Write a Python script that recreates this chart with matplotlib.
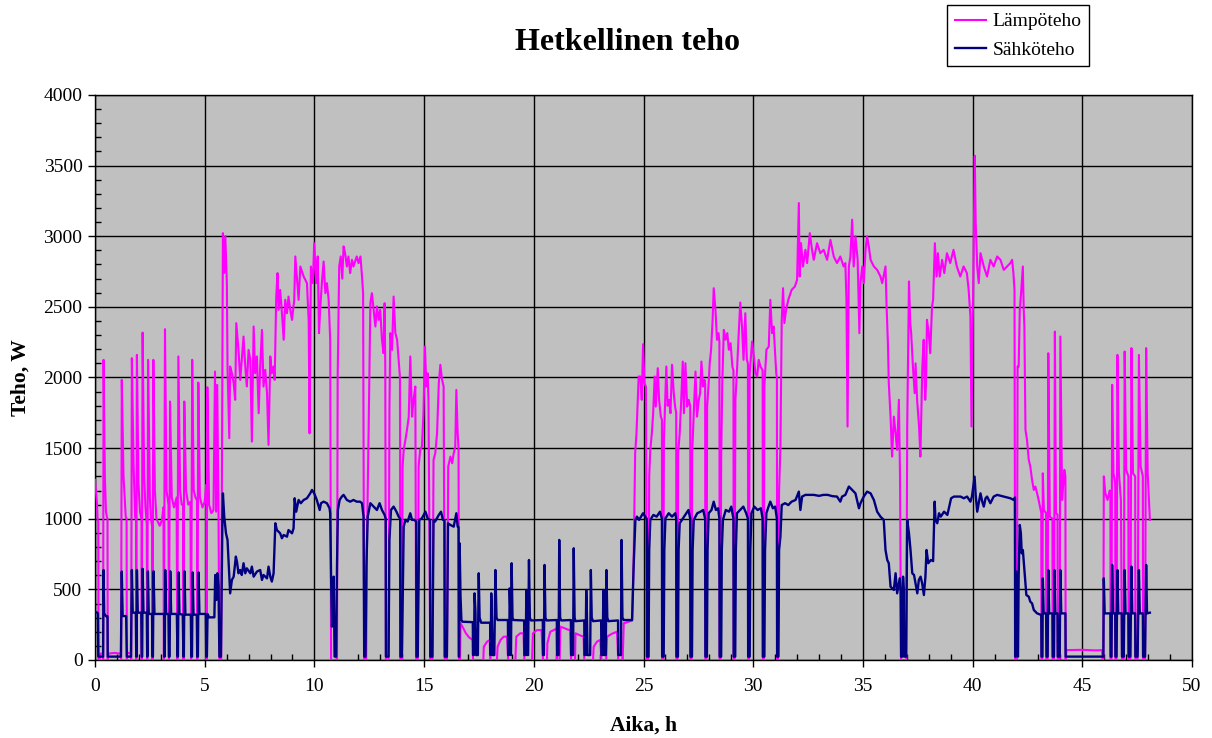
import numpy as np
import matplotlib
matplotlib.use("Agg")
import matplotlib.pyplot as plt
import matplotlib.ticker as mticker

# (time h, power W), split by period
heat_0_6h = [
  (0.00, 1275), (0.09, 1110), (0.12, 990), (0.15, 980), (0.16, 0), (0.22, 10), (0.25, 45), (0.36, 45),
  (0.37, 0), (0.39, 2125), (0.45, 1300), (0.50, 1050), (0.54, 1015), (0.57, 1000), (0.58, 0), (0.60, 45),
  (0.90, 50), (1.18, 45), (1.19, 0), (1.22, 1983), (1.30, 1300), (1.40, 1015), (1.44, 1000), (1.45, 0),
  (1.48, 50), (1.63, 50), (1.65, 0), (1.68, 2137), (1.76, 1370), (1.83, 1015), (1.87, 990), (1.88, 0),
  (1.91, 2160), (1.98, 1250), (2.05, 1050), (2.12, 1000), (2.13, 0), (2.17, 2318), (2.24, 1300),
  (2.30, 1080), (2.36, 960), (2.38, 0), (2.42, 2125), (2.50, 1150), (2.55, 1000), (2.61, 940), (2.62, 0),
  (2.66, 2125), (2.73, 1200), (2.80, 1000), (2.95, 950), (3.05, 990), (3.12, 1080), (3.14, 0),
  (3.19, 2342), (3.26, 1200), (3.35, 1100), (3.37, 0), (3.42, 1830), (3.50, 1150), (3.60, 1080),
  (3.72, 1150), (3.75, 0), (3.80, 2149), (3.88, 1200), (3.95, 1100), (4.02, 1100), (4.03, 0),
  (4.07, 1830), (4.15, 1200), (4.25, 1100), (4.35, 1120), (4.38, 0), (4.43, 2125), (4.50, 1200),
  (4.58, 1150), (4.65, 1130), (4.66, 0), (4.71, 1964), (4.78, 1150), (4.90, 1080), (5.00, 1120),
  (5.07, 1240), (5.09, 0), (5.12, 1931), (5.20, 1100), (5.30, 1040), (5.40, 1060), (5.47, 2042),
  (5.52, 1050), (5.57, 1948), (5.63, 1020), (5.67, 0), (5.75, 0), (5.80, 1800),
]
heat_6_11h = [
  (5.83, 3022), (5.89, 2740), (5.94, 3000), (6.01, 2668), (6.04, 2078), (6.12, 1570), (6.16, 2078),
  (6.24, 2030), (6.32, 1960), (6.39, 1842), (6.44, 2385), (6.54, 2195), (6.62, 1983), (6.77, 2290),
  (6.85, 2078), (6.92, 1936), (7.00, 2195), (7.08, 2125), (7.15, 1546), (7.23, 2361), (7.30, 2030),
  (7.38, 2149), (7.46, 1747), (7.53, 2078), (7.61, 2337), (7.68, 1936), (7.76, 2054), (7.84, 1889),
  (7.91, 1523), (7.99, 2149), (8.06, 2030), (8.14, 2078), (8.19, 1983), (8.26, 2573), (8.32, 2739),
  (8.37, 2479), (8.44, 2620), (8.52, 2455), (8.60, 2267), (8.67, 2550), (8.75, 2455), (8.82, 2573),
  (8.90, 2479), (8.98, 2408), (9.08, 2550), (9.13, 2857), (9.20, 2715), (9.28, 2550), (9.36, 2786),
  (9.51, 2715), (9.66, 2668), (9.74, 2400), (9.78, 1605), (9.84, 2786), (9.93, 2668), (9.99, 2951),
  (10.08, 2668), (10.15, 2857), (10.21, 2314), (10.27, 2500), (10.34, 2668), (10.42, 2821),
  (10.50, 2597), (10.57, 2668), (10.65, 2550), (10.72, 2267),
]
heat_11_17h = [
  (10.76, 0), (11.03, 0), (11.06, 2000), (11.13, 2786), (11.20, 2857), (11.27, 2700), (11.33, 2928),
  (11.40, 2880), (11.48, 2786), (11.55, 2857), (11.63, 2739), (11.71, 2833), (11.78, 2786),
  (11.93, 2857), (12.01, 2810), (12.10, 2857), (12.17, 2715), (12.22, 2597), (12.27, 0), (12.36, 0),
  (12.40, 900), (12.47, 1605), (12.55, 2526), (12.62, 2597), (12.70, 2479), (12.78, 2361),
  (12.85, 2503), (12.93, 2408), (13.00, 2479), (13.08, 2267), (13.15, 2172), (13.20, 2526),
  (13.23, 2078), (13.26, 0), (13.38, 0), (13.42, 1770), (13.46, 2314), (13.54, 2196), (13.61, 2573),
  (13.69, 2314), (13.77, 2267), (13.84, 2125), (13.90, 2000), (13.92, 0), (13.99, 0), (14.02, 1370),
  (14.07, 1487), (14.15, 1560), (14.22, 1629), (14.30, 1723), (14.37, 2149), (14.45, 1723),
  (14.52, 1842), (14.60, 1936), (14.64, 0), (14.71, 0), (14.75, 1370), (14.82, 1487), (14.90, 1511),
  (14.97, 1747), (15.04, 2219), (15.10, 1936), (15.16, 2030), (15.20, 1842), (15.28, 0), (15.38, 0),
  (15.43, 1417), (15.51, 1464), (15.59, 1605), (15.67, 1960), (15.74, 2090), (15.82, 1983),
  (15.89, 1936), (15.94, 0), (16.04, 0), (16.10, 1370), (16.20, 1440), (16.28, 1393), (16.35, 1464),
  (16.42, 1511), (16.47, 1912), (16.53, 1605), (16.57, 1500), (16.59, 0),
]
heat_17_25h = [
  (16.64, 0), (16.66, 260), (16.75, 236), (16.90, 190), (17.05, 160), (17.22, 141), (17.23, 0),
  (17.70, 0), (17.72, 94), (17.87, 130), (17.99, 141), (18.02, 0), (18.32, 0), (18.35, 94),
  (18.48, 141), (18.63, 165), (18.78, 165), (18.83, 0), (19.16, 0), (19.20, 165), (19.38, 189),
  (19.53, 189), (19.57, 0), (19.92, 0), (19.96, 189), (20.15, 212), (20.35, 212), (20.42, 0),
  (20.60, 0), (20.62, 120), (20.75, 200), (20.95, 215), (21.04, 225), (21.06, 0), (21.18, 0),
  (21.21, 236), (21.40, 225), (21.55, 215), (21.66, 212), (21.70, 0), (21.88, 0), (21.90, 189),
  (22.10, 175), (22.27, 165), (22.30, 0), (22.70, 0), (22.73, 94), (22.88, 130), (23.03, 142),
  (23.08, 0), (23.30, 0), (23.34, 165), (23.55, 185), (23.79, 200), (23.85, 0), (24.05, 0),
  (24.10, 260), (24.30, 270), (24.48, 279), (24.55, 700), (24.62, 1464), (24.68, 1605), (24.78, 2007),
  (24.86, 2007), (24.92, 1842), (24.98, 2236), (25.04, 1960), (25.11, 1936), (25.15, 0),
]
heat_25_32h = [
  (25.22, 0), (25.26, 1300), (25.31, 1487), (25.38, 1605), (25.44, 1747), (25.51, 2007), (25.56, 1794),
  (25.65, 2066), (25.71, 1842), (25.79, 1723), (25.84, 1700), (25.85, 0), (25.90, 0), (25.93, 1558),
  (26.00, 1889), (26.04, 2078), (26.10, 1800), (26.16, 1842), (26.23, 1747), (26.30, 2090),
  (26.38, 1889), (26.44, 1794), (26.49, 1750), (26.50, 0), (26.55, 0), (26.58, 1464), (26.65, 1605),
  (26.72, 1842), (26.79, 2113), (26.84, 1747), (26.91, 2101), (26.99, 1794), (27.06, 1842),
  (27.13, 1800), (27.14, 0), (27.19, 0), (27.22, 1464), (27.29, 1747), (27.37, 2042), (27.44, 1723),
  (27.52, 1842), (27.58, 1889), (27.64, 2113), (27.71, 1936), (27.78, 1983), (27.81, 1950), (27.82, 0),
  (27.87, 0), (27.90, 1794), (27.97, 1960), (28.02, 2106), (28.08, 2196), (28.15, 2408), (28.20, 2632),
  (28.28, 2479), (28.35, 2267), (28.42, 2314), (28.46, 2250), (28.47, 0), (28.51, 0), (28.54, 1417),
  (28.59, 1960), (28.66, 2337), (28.74, 2267), (28.82, 2314), (28.89, 2196), (28.97, 2243),
  (29.05, 2078), (29.10, 2050), (29.11, 0), (29.15, 0), (29.19, 1842), (29.27, 2078), (29.34, 2314),
  (29.41, 2531), (29.49, 2361), (29.56, 2125), (29.64, 2455), (29.71, 2125), (29.76, 2100), (29.77, 0),
  (29.81, 0), (29.84, 2030), (29.95, 2255), (30.03, 2149), (30.10, 2030), (30.18, 2007), (30.25, 2125),
  (30.33, 2078), (30.43, 2050), (30.44, 0), (30.48, 0), (30.51, 1936), (30.60, 2196), (30.71, 2219),
  (30.78, 2550), (30.86, 2314), (30.93, 2361), (31.00, 2172), (31.05, 2030), (31.08, 2000), (31.09, 0),
  (31.13, 0), (31.18, 1200), (31.24, 1500), (31.30, 2400), (31.36, 2632), (31.42, 2385), (31.50, 2479),
  (31.60, 2550), (31.75, 2620), (31.90, 2644), (32.00, 2692),
]
heat_32_42h = [
  (32.08, 3235), (32.12, 2715), (32.18, 2951), (32.27, 2786), (32.38, 2904), (32.46, 2810),
  (32.58, 3022), (32.68, 2904), (32.76, 2833), (32.91, 2951), (33.06, 2880), (33.21, 2904),
  (33.37, 2833), (33.52, 2975), (33.67, 2857), (33.82, 2810), (33.97, 2857), (34.12, 2786),
  (34.20, 2810), (34.25, 2550), (34.30, 1653), (34.36, 2786), (34.43, 2857), (34.51, 3117),
  (34.58, 2786), (34.66, 3000), (34.76, 2833), (34.84, 2314), (34.89, 2668), (34.97, 2786),
  (35.04, 2668), (35.12, 2904), (35.19, 3000), (35.27, 2928), (35.35, 2833), (35.50, 2786),
  (35.65, 2762), (35.80, 2715), (35.88, 2668), (36.03, 2786), (36.08, 2503), (36.14, 2243),
  (36.18, 1960), (36.26, 1723), (36.33, 1440), (36.41, 1723), (36.49, 1605), (36.56, 1487),
  (36.64, 1842), (36.69, 1322), (36.74, 0), (36.98, 0), (37.02, 1653), (37.10, 2680), (37.16, 2385),
  (37.20, 2314), (37.28, 2078), (37.36, 1889), (37.40, 2100), (37.47, 1842), (37.56, 1653),
  (37.62, 1440), (37.71, 2078), (37.77, 2267), (37.84, 1842), (37.88, 1960), (37.92, 2408),
  (38.00, 2314), (38.07, 2172), (38.15, 2503), (38.20, 2550), (38.28, 2951), (38.36, 2715),
  (38.42, 2880), (38.50, 2715), (38.61, 2833), (38.71, 2739), (38.83, 2880), (38.98, 2810),
  (39.13, 2904), (39.28, 2786), (39.44, 2715), (39.59, 2786), (39.74, 2739), (39.82, 2620),
  (39.90, 2432), (39.95, 1653), (40.00, 2314), (40.10, 3570), (40.14, 3100), (40.21, 2786),
  (40.28, 2668), (40.36, 2880), (40.51, 2786), (40.66, 2715), (40.81, 2833), (40.96, 2786),
  (41.12, 2857), (41.27, 2833), (41.42, 2762), (41.57, 2786), (41.72, 2810), (41.80, 2833),
  (41.86, 2739), (41.91, 2620), (41.94, 0),
]
heat_42_48h = [
  (42.02, 0), (42.05, 2078), (42.10, 2078), (42.15, 2479), (42.21, 2600), (42.29, 2786), (42.33, 2479),
  (42.36, 2361), (42.41, 1629), (42.48, 1558), (42.56, 1417), (42.63, 1370), (42.71, 1275),
  (42.79, 1204), (42.86, 1228), (42.94, 1180), (43.01, 1133), (43.10, 1062), (43.13, 1040), (43.14, 0),
  (43.18, 0), (43.20, 1322), (43.25, 1060), (43.35, 1040), (43.36, 0), (43.42, 0), (43.45, 2172),
  (43.52, 1015), (43.64, 1000), (43.65, 0), (43.71, 0), (43.75, 2325), (43.80, 1040), (43.87, 1030),
  (43.88, 0), (43.97, 0), (44.00, 2290), (44.08, 1133), (44.18, 1346), (44.23, 1300), (44.24, 0),
  (44.28, 70), (45.00, 72), (45.60, 68), (45.90, 70), (45.92, 0), (45.96, 0), (45.98, 1300),
  (46.05, 1180), (46.15, 1133), (46.25, 1200), (46.28, 1180), (46.29, 0), (46.33, 0), (46.36, 1948),
  (46.42, 1322), (46.50, 1250), (46.51, 0), (46.56, 0), (46.60, 2160), (46.67, 1322), (46.76, 1133),
  (46.81, 0), (46.89, 0), (46.93, 2184), (47.00, 1346), (47.10, 1300), (47.11, 0), (47.19, 0),
  (47.24, 2208), (47.31, 1322), (47.41, 1300), (47.42, 0), (47.52, 0), (47.58, 2160), (47.66, 1370),
  (47.76, 1300), (47.77, 0), (47.86, 0), (47.91, 2208), (47.98, 1322), (48.08, 992),
]

elec_0_6h = [
  (0.00, 342), (0.10, 335), (0.13, 330), (0.15, 24), (0.37, 24), (0.39, 637), (0.42, 330), (0.50, 310),
  (0.57, 310), (0.58, 24), (1.18, 24), (1.22, 626), (1.26, 311), (1.42, 311), (1.45, 24), (1.64, 24),
  (1.68, 637), (1.72, 335), (1.86, 335), (1.88, 24), (1.90, 24), (1.91, 637), (1.95, 335), (2.11, 335),
  (2.13, 24), (2.15, 24), (2.17, 646), (2.21, 335), (2.36, 335), (2.38, 24), (2.39, 24), (2.41, 628),
  (2.45, 326), (2.60, 326), (2.62, 24), (2.64, 24), (2.67, 628), (2.71, 326), (3.15, 326), (3.16, 24),
  (3.18, 24), (3.20, 637), (3.24, 326), (3.35, 326), (3.37, 24), (3.40, 24), (3.43, 628), (3.47, 326),
  (3.73, 326), (3.76, 24), (3.78, 24), (3.81, 620), (3.85, 326), (4.00, 321), (4.03, 24), (4.05, 24),
  (4.08, 628), (4.12, 321), (4.37, 321), (4.39, 24), (4.42, 24), (4.45, 620), (4.49, 321), (4.64, 321),
  (4.66, 24), (4.69, 24), (4.72, 620), (4.76, 326), (5.05, 326), (5.07, 24), (5.10, 24), (5.13, 326),
  (5.20, 302), (5.44, 302), (5.48, 602), (5.53, 425), (5.58, 614), (5.63, 519), (5.67, 24), (5.74, 24),
  (5.80, 900),
]
elec_6_11h = [
  (5.83, 1180), (5.89, 1015), (5.97, 897), (6.04, 850), (6.12, 590), (6.16, 472), (6.24, 567),
  (6.32, 590), (6.42, 732), (6.47, 696), (6.54, 614), (6.62, 637), (6.69, 602), (6.77, 685),
  (6.85, 614), (6.92, 649), (7.08, 614), (7.15, 661), (7.23, 590), (7.38, 626), (7.53, 637),
  (7.61, 567), (7.68, 602), (7.84, 578), (7.91, 661), (7.99, 590), (8.06, 555), (8.14, 614),
  (8.22, 968), (8.29, 920), (8.44, 897), (8.52, 862), (8.60, 885), (8.75, 873), (8.82, 920),
  (8.98, 897), (9.05, 932), (9.10, 1145), (9.17, 1050), (9.28, 1133), (9.38, 1110), (9.51, 1133),
  (9.66, 1145), (9.81, 1180), (9.89, 1204), (9.99, 1180), (10.11, 1133), (10.24, 1062), (10.30, 1110),
  (10.42, 1121), (10.57, 1110), (10.69, 1074),
]
elec_11_17h = [
  (10.72, 1039), (10.76, 590), (10.80, 236), (10.84, 354), (10.88, 590), (10.92, 24), (10.99, 24),
  (11.03, 661), (11.07, 1062), (11.15, 1133), (11.25, 1157), (11.33, 1169), (11.48, 1133),
  (11.63, 1121), (11.78, 1133), (11.93, 1121), (12.08, 1121), (12.17, 1110), (12.24, 1015),
  (12.27, 24), (12.33, 24), (12.37, 661), (12.43, 1015), (12.55, 1110), (12.70, 1086), (12.85, 1062),
  (12.97, 1110), (13.08, 1062), (13.20, 1027), (13.25, 1000), (13.26, 24), (13.38, 24), (13.42, 850),
  (13.49, 1062), (13.61, 1086), (13.74, 1050), (13.84, 1015), (13.91, 1000), (13.92, 24), (13.99, 24),
  (14.07, 944), (14.15, 992), (14.25, 980), (14.37, 1039), (14.45, 992), (14.55, 992), (14.64, 980),
  (14.65, 24), (14.71, 24), (14.78, 992), (14.90, 1003), (15.06, 1050), (15.16, 1003), (15.27, 990),
  (15.28, 24), (15.38, 24), (15.43, 992), (15.50, 980), (15.67, 1027), (15.77, 1050), (15.86, 992),
  (15.93, 990), (15.94, 24), (16.04, 24), (16.09, 968), (16.20, 956), (16.35, 944), (16.47, 1039),
  (16.53, 944), (16.57, 940), (16.58, 24), (16.60, 24), (16.62, 826), (16.66, 450), (16.70, 283),
  (16.75, 271),
]
elec_17_25h = [
  (17.22, 268), (17.23, 35), (17.27, 35), (17.30, 472), (17.34, 342), (17.37, 35), (17.45, 35),
  (17.49, 614), (17.53, 300), (17.60, 264), (18.01, 264), (18.02, 35), (18.04, 35), (18.06, 472),
  (18.09, 300), (18.12, 35), (18.20, 35), (18.25, 637), (18.30, 300), (18.35, 283), (18.82, 283),
  (18.83, 35), (18.88, 35), (18.90, 507), (18.93, 342), (18.95, 35), (18.96, 35), (18.99, 685),
  (19.03, 300), (19.07, 283), (19.56, 280), (19.57, 35), (19.63, 35), (19.66, 496), (19.69, 300),
  (19.72, 35), (19.74, 35), (19.78, 708), (19.82, 300), (19.87, 280), (20.41, 283), (20.42, 35),
  (20.46, 35), (20.49, 673), (20.53, 300), (20.58, 280), (21.05, 283), (21.06, 35), (21.13, 35),
  (21.16, 850), (21.20, 300), (21.25, 280), (21.69, 283), (21.70, 35), (21.79, 35), (21.82, 791),
  (21.86, 300), (21.90, 275), (22.30, 280), (22.31, 35), (22.36, 35), (22.39, 496), (22.42, 330),
  (22.45, 35), (22.57, 35), (22.60, 637), (22.64, 300), (22.70, 275), (23.07, 280), (23.08, 35),
  (23.14, 35), (23.17, 496), (23.20, 330), (23.23, 35), (23.28, 35), (23.31, 637), (23.35, 300),
  (23.40, 275), (23.84, 280), (23.85, 35), (23.97, 35), (24.00, 850), (24.04, 300), (24.10, 283),
  (24.48, 283), (24.55, 661), (24.63, 992), (24.70, 1015), (24.80, 992), (24.98, 1039), (25.08, 1015),
  (25.15, 1000),
]
elec_25_32h = [
  (25.16, 24), (25.23, 24), (25.26, 780), (25.31, 992), (25.45, 1027), (25.60, 1015), (25.75, 1050),
  (25.84, 1000), (25.85, 24), (25.92, 24), (25.95, 780), (26.00, 1003), (26.15, 1039), (26.30, 1015),
  (26.45, 1039), (26.49, 1000), (26.50, 24), (26.57, 24), (26.60, 780), (26.65, 968), (26.80, 1003),
  (26.95, 1039), (27.05, 1062), (27.13, 1000), (27.14, 24), (27.21, 24), (27.24, 780), (27.29, 992),
  (27.45, 1039), (27.60, 1050), (27.72, 1062), (27.81, 1000), (27.82, 24), (27.89, 24), (27.92, 780),
  (27.97, 1039), (28.10, 1062), (28.20, 1121), (28.30, 1062), (28.40, 1074), (28.46, 1000), (28.47, 24),
  (28.54, 24), (28.57, 779), (28.62, 992), (28.75, 1062), (28.90, 1050), (29.00, 1086), (29.10, 1000),
  (29.11, 24), (29.18, 24), (29.21, 780), (29.26, 1039), (29.40, 1062), (29.55, 1086), (29.68, 1039),
  (29.76, 1000), (29.77, 24), (29.84, 24), (29.87, 780), (29.92, 1039), (30.05, 1086), (30.20, 1062),
  (30.35, 1074), (30.43, 1000), (30.44, 24), (30.51, 24), (30.54, 780), (30.60, 1039), (30.70, 1086),
  (30.78, 1121), (30.90, 1074), (31.00, 1086), (31.08, 1000), (31.09, 24), (31.15, 24), (31.18, 779),
  (31.24, 873), (31.30, 1097), (31.45, 1110), (31.60, 1097), (31.75, 1121), (31.93, 1133),
]
elec_32_42h = [
  (32.08, 1192), (32.15, 1062), (32.23, 1157), (32.38, 1169), (32.60, 1169), (32.76, 1169),
  (33.00, 1162), (33.20, 1169), (33.40, 1169), (33.60, 1160), (33.82, 1157), (33.97, 1121),
  (34.05, 1157), (34.20, 1169), (34.36, 1228), (34.51, 1204), (34.66, 1180), (34.82, 1074),
  (34.89, 1110), (35.04, 1157), (35.19, 1192), (35.35, 1180), (35.50, 1133), (35.65, 1050),
  (35.80, 1015), (35.95, 992), (36.03, 779), (36.11, 708), (36.18, 685), (36.26, 519), (36.41, 496),
  (36.49, 614), (36.56, 472), (36.68, 578), (36.72, 500), (36.74, 24), (36.80, 24), (36.83, 590),
  (36.86, 500), (36.88, 24), (36.97, 24), (37.02, 991), (37.10, 897), (37.17, 779), (37.25, 614),
  (37.33, 602), (37.40, 543), (37.48, 472), (37.55, 567), (37.63, 590), (37.70, 543), (37.78, 460),
  (37.85, 590), (37.90, 779), (37.98, 685), (38.10, 708), (38.20, 700), (38.27, 1121), (38.31, 992),
  (38.39, 968), (38.47, 1039), (38.55, 1015), (38.70, 1050), (38.85, 1027), (39.02, 1145),
  (39.15, 1157), (39.45, 1157), (39.60, 1145), (39.75, 1157), (39.90, 1121), (39.97, 1157),
  (40.09, 1298), (40.14, 1169), (40.21, 1050), (40.29, 1121), (40.36, 1180), (40.44, 1121),
  (40.51, 1086), (40.59, 1145), (40.66, 1157), (40.81, 1110), (40.96, 1157), (41.12, 1169),
  (41.42, 1157), (41.72, 1145), (41.88, 1133), (41.93, 1150),
]
elec_42_48h = [
  (41.94, 24), (41.97, 24), (41.99, 626), (42.03, 50), (42.07, 24), (42.10, 600), (42.15, 956),
  (42.20, 897), (42.24, 755), (42.29, 779), (42.35, 661), (42.45, 460), (42.56, 448), (42.63, 413),
  (42.71, 401), (42.79, 354), (42.94, 330), (43.13, 319), (43.14, 24), (43.18, 24), (43.20, 578),
  (43.24, 330), (43.35, 330), (43.37, 24), (43.42, 24), (43.45, 637), (43.49, 330), (43.64, 330),
  (43.65, 24), (43.71, 24), (43.73, 637), (43.77, 330), (43.87, 330), (43.88, 24), (43.97, 24),
  (44.00, 637), (44.04, 330), (44.23, 330), (44.24, 24), (45.96, 24), (45.98, 578), (46.02, 330),
  (46.28, 330), (46.29, 24), (46.33, 24), (46.36, 673), (46.40, 330), (46.50, 330), (46.51, 24),
  (46.56, 24), (46.60, 637), (46.64, 330), (46.80, 330), (46.81, 24), (46.89, 24), (46.93, 637),
  (46.97, 330), (47.10, 330), (47.11, 24), (47.19, 24), (47.24, 661), (47.28, 330), (47.41, 330),
  (47.42, 24), (47.52, 24), (47.58, 637), (47.62, 330), (47.76, 330), (47.77, 24), (47.86, 24),
  (47.91, 673), (47.95, 330), (48.08, 335),
]

heat_segments = [heat_0_6h, heat_6_11h, heat_11_17h, heat_17_25h, heat_25_32h, heat_32_42h, heat_42_48h]
elec_segments = [elec_0_6h, elec_6_11h, elec_11_17h, elec_17_25h, elec_25_32h, elec_32_42h, elec_42_48h]


def joinSegments(segments):
  pts = np.array([p for seg in segments for p in seg], dtype=float)
  return pts[:, 0], pts[:, 1]


plt.rcParams['font.family'] = ['Liberation Serif', 'DejaVu Serif']

fig = plt.figure(figsize=(12.12, 7.38), dpi=100)
ax = fig.add_axes([95 / 1212, 78 / 738, 1097 / 1212, 565 / 738])
ax.set_facecolor('#C0C0C0')

tHeat, pHeat = joinSegments(heat_segments)
tElec, pElec = joinSegments(elec_segments)

ax.plot(tHeat, pHeat, color='#FF00FF', lw=1.5, label='Lämpöteho', zorder=3)
ax.plot(tElec, pElec, color='#000080', lw=1.7, label='Sähköteho', zorder=4)

ax.set_xlim(0, 50)
ax.set_ylim(0, 4000)
ax.xaxis.set_major_locator(mticker.MultipleLocator(5))
ax.xaxis.set_minor_locator(mticker.MultipleLocator(1))
ax.yaxis.set_major_locator(mticker.MultipleLocator(500))
ax.yaxis.set_minor_locator(mticker.MultipleLocator(100))
ax.tick_params(which='major', direction='out', length=5, width=1, labelsize=14, pad=4)
ax.tick_params(axis='x', which='major', pad=8)
ax.tick_params(which='minor', direction='in', length=4, width=1)
ax.grid(which='major', color='black', linestyle='-', linewidth=1, zorder=1)
ax.set_axisbelow(True)
for s in ax.spines.values():
  s.set_color('black')
  s.set_linewidth(1)

ax.set_xlabel('Aika, h', fontsize=15.5, fontweight='bold', labelpad=15)
ax.set_ylabel('Teho, W', fontsize=15.5, fontweight='bold', labelpad=9)
fig.text(0.518, 0.943, 'Hetkellinen teho', ha='center', va='center', fontsize=23, fontweight='bold')

leg = fig.legend(loc='upper left', bbox_to_anchor=(947 / 1212, 1 - 5 / 738), fontsize=14,
                 frameon=True, fancybox=False, edgecolor='black', framealpha=1, borderaxespad=0,
                 handlelength=1.6, borderpad=0.4, labelspacing=0.55, handletextpad=0.35)
leg.get_frame().set_linewidth(1)

fig.savefig('out.png', dpi=100)
